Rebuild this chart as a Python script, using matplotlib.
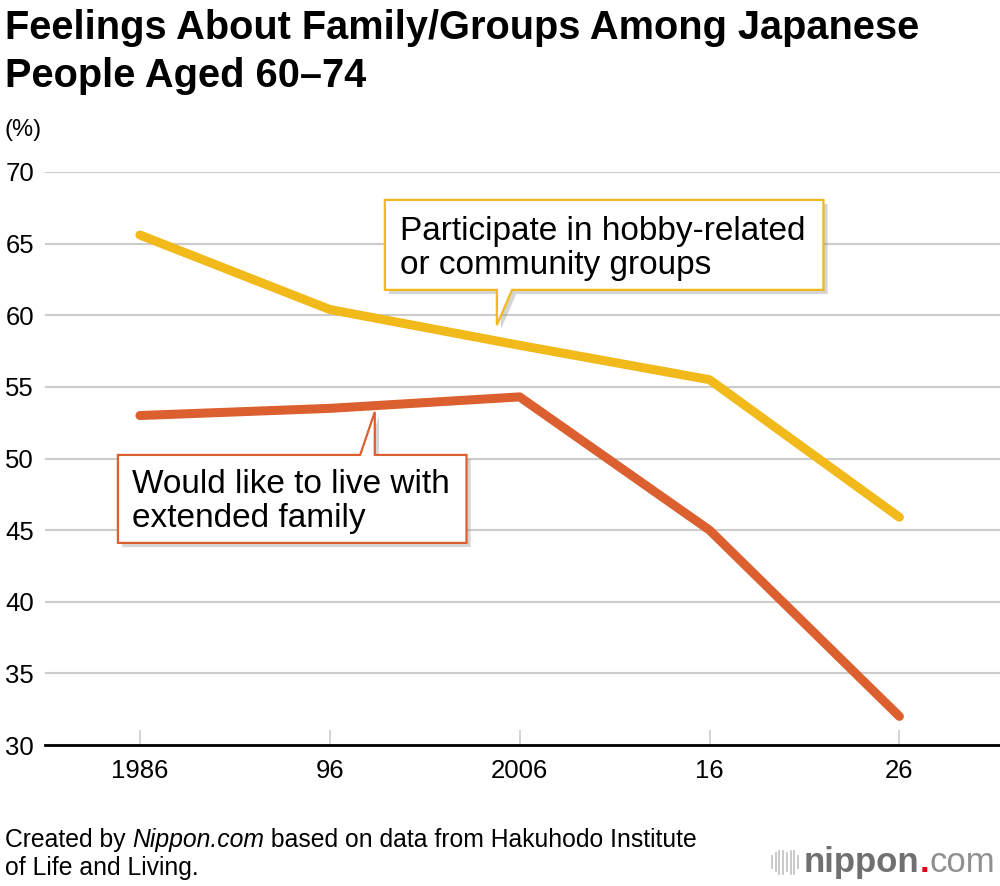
import matplotlib.pyplot as plt
from matplotlib.patches import Polygon
import matplotlib.patheffects as pe

plt.rcParams['font.family'] = ['Liberation Sans', 'DejaVu Sans']

years = ['1986', '96', '2006', '16', '26']
hobby = [65.6, 60.4, 57.9, 55.5, 45.9]
family = [53.0, 53.5, 54.3, 45.0, 32.0]
yticks = [30, 35, 40, 45, 50, 55, 60, 65, 70]

yellow = '#f1b91a'
orange = '#dc5f2f'

fig = plt.figure(figsize=(10, 8.86), dpi=100)
ax = fig.add_axes([0.045, 0.1591, 0.955, 0.6468])

x = list(range(len(years)))
ax.plot(x, hobby, color=yellow, lw=6.5, solid_capstyle='round', solid_joinstyle='round', zorder=3)
ax.plot(x, family, color=orange, lw=6.5, solid_capstyle='round', solid_joinstyle='round', zorder=3)

ax.set_xlim(-0.5, 4.53)
ax.set_ylim(30, 70)
ax.set_yticks(yticks)
ax.set_xticks(x)
ax.set_xticklabels(years)
ax.grid(axis='y', color='#cccccc', lw=1.5)
ax.set_axisbelow(True)
for s in ['top', 'right', 'left']:
    ax.spines[s].set_visible(False)
ax.spines['bottom'].set_linewidth(2)
ax.spines['bottom'].set_color('black')
ax.tick_params(axis='y', length=0, pad=8, labelsize=18.5)
ax.tick_params(axis='x', direction='in', length=11, width=1.2, color='#cccccc', pad=10, labelsize=18.5)


def callout(x0, x1, y0, y1, tip, base, edge, side):
    # box with pointer on bottom or top edge
    if side == 'bottom':
        pts = [(x0, y1), (x1, y1), (x1, y0), (base[1], y0), tip, (base[0], y0), (x0, y0)]
    else:
        pts = [(x0, y0), (x1, y0), (x1, y1), (base[1], y1), tip, (base[0], y1), (x0, y1)]
    p = Polygon(pts, closed=True, facecolor='white', edgecolor=edge, lw=1.6, zorder=5,
                path_effects=[pe.SimplePatchShadow(offset=(3, -3), shadow_rgbFace='#888888', alpha=0.35), pe.Normal()])
    ax.add_patch(p)


# hobby box
callout(1.29, 3.6, 61.77, 68.05, (1.88, 59.32), (1.88, 1.96), yellow, 'bottom')
ax.text(1.37, 66.95, 'Participate in hobby-related\nor community groups', fontsize=24,
        va='top', ha='left', linespacing=1.13, zorder=6)

# family box
callout(-0.116, 1.72, 44.11, 50.25, (1.237, 53.25), (1.16, 1.237), orange, 'top')
ax.text(-0.04, 49.3, 'Would like to live with\nextended family', fontsize=24,
        va='top', ha='left', linespacing=1.13, zorder=6)

fig.text(0.005, 0.99, 'Feelings About Family/Groups Among Japanese\nPeople Aged 60\u201374',
         fontsize=28.6, fontweight='bold', va='top', ha='left', linespacing=1.35)
fig.text(0.005, 0.853, '(%)', fontsize=17, va='center', ha='left')

# source note, with italic Nippon.com
fig.canvas.draw()
y1 = 1 - 840 / 886
y2 = 1 - 868 / 886
xpos = 0.005
for s, st in [('Created by ', 'normal'), ('Nippon.com', 'italic'),
              (' based on data from Hakuhodo Institute', 'normal')]:
    t = fig.text(xpos, y1, s, fontsize=17.8, style=st, va='center', ha='left')
    xpos = t.get_window_extent().transformed(fig.transFigure.inverted()).x1
fig.text(0.005, y2, 'of Life and Living.', fontsize=17.8, va='center', ha='left')

# logo
for i, h in enumerate([0.5, 0.8, 1.0, 1.0, 0.8, 1.0, 1.0, 0.5]):
    xx = 0.772 + i * 0.0037
    fig.add_artist(plt.Line2D([xx, xx], [0.027 - 0.013 * h, 0.027 + 0.013 * h], color='#c0c0c0', lw=1.2))
t1 = fig.text(0.804, 0.027, 'nippon', fontsize=25, fontweight='bold', color='#707070', va='center', ha='left')
bb = t1.get_window_extent().transformed(fig.transFigure.inverted())
t2 = fig.text(bb.x1, 0.027, '.', fontsize=25, fontweight='bold', color='#e60012', va='center', ha='left')
bb2 = t2.get_window_extent().transformed(fig.transFigure.inverted())
fig.text(bb2.x1, 0.027, 'com', fontsize=25, color='#909090', va='center', ha='left')

fig.savefig('out.png', dpi=100)
